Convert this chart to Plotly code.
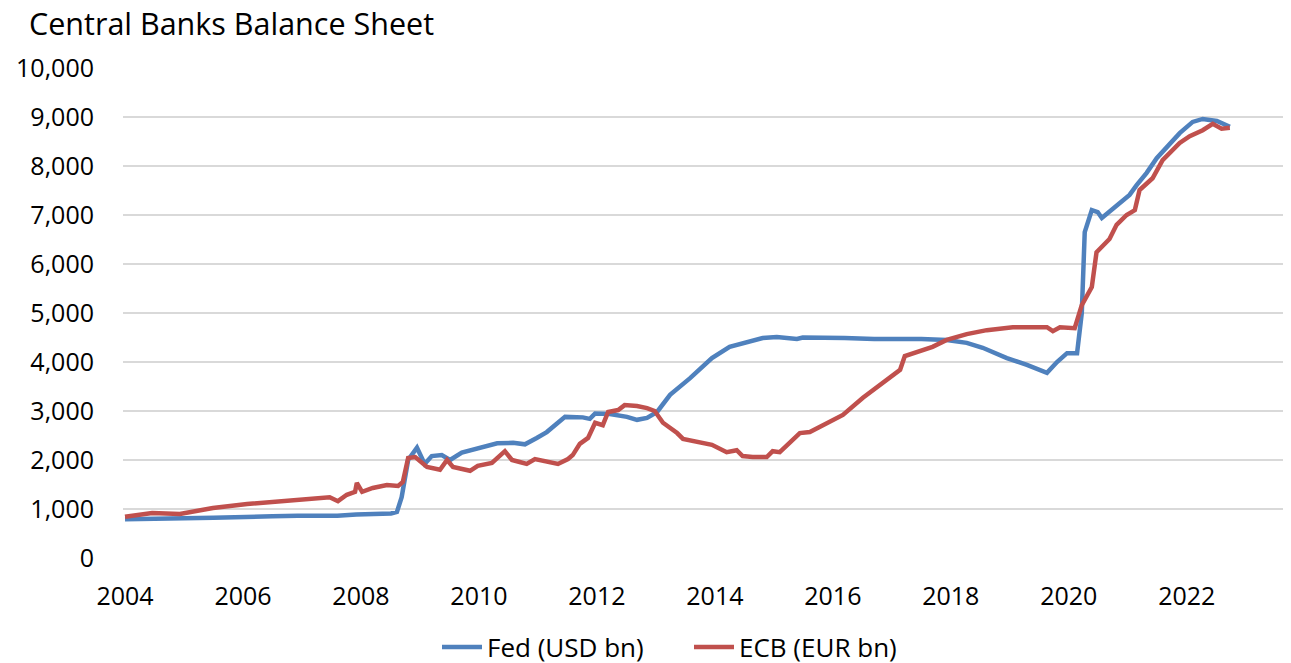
import plotly.graph_objects as go

fed_years = [2004.00, 2004.50, 2005.00, 2005.50, 2005.95, 2006.50, 2006.93, 2007.40, 2007.60, 2007.92,
             2008.20, 2008.51, 2008.61, 2008.69, 2008.80, 2008.95,
             2009.08, 2009.20, 2009.37, 2009.51, 2009.71, 2009.97, 2010.31, 2010.58, 2010.78, 2010.98,
             2011.15, 2011.46, 2011.76, 2011.88, 2011.97, 2012.22, 2012.51, 2012.68, 2012.85, 2013.02,
             2013.24, 2013.58, 2013.95, 2014.25, 2014.54, 2014.81, 2015.05, 2015.39, 2015.49, 2015.78,
             2016.20, 2016.70, 2017.14, 2017.50, 2017.93, 2018.27, 2018.54, 2018.95, 2019.29, 2019.63,
             2019.80, 2019.97, 2020.14,
             2020.22, 2020.27, 2020.39, 2020.49, 2020.56, 2020.86, 2021.03, 2021.15, 2021.32, 2021.49,
             2021.66, 2021.88, 2022.10, 2022.27, 2022.51, 2022.73]
fed_values = [790, 810, 810, 820, 840, 850, 860, 870, 860, 890,
              900, 910, 940, 1240, 2000, 2250,
              1920, 2080, 2100, 2000, 2150, 2240, 2340, 2350, 2320, 2450,
              2570, 2880, 2870, 2840, 2950, 2940, 2880, 2820, 2860, 2980,
              3330, 3670, 4080, 4310, 4410, 4490, 4510, 4470, 4500, 4500,
              4490, 4470, 4480, 4470, 4450, 4390, 4290, 4080, 3940, 3780,
              4000, 4180, 4180,
              5000, 6650, 7100, 7060, 6940, 7240, 7410, 7610, 7860, 8160,
              8370, 8670, 8900, 8960, 8920, 8800]

ecb_years = [2004.00, 2004.46, 2004.93, 2005.49, 2006.07, 2006.51, 2006.92, 2007.47, 2007.61, 2007.76,
             2007.90, 2007.93, 2008.02, 2008.20, 2008.44, 2008.63, 2008.71, 2008.80, 2008.92, 2009.12,
             2009.34, 2009.46, 2009.56, 2009.85, 2009.98, 2010.22, 2010.44, 2010.56, 2010.69, 2010.81,
             2010.95, 2011.15, 2011.34, 2011.51, 2011.59, 2011.71, 2011.85, 2011.97, 2012.10, 2012.19,
             2012.36, 2012.47, 2012.68, 2012.85, 2012.98, 2013.12, 2013.36, 2013.46, 2013.75, 2013.95,
             2014.20, 2014.37, 2014.47, 2014.64, 2014.88, 2014.98, 2015.10, 2015.27, 2015.44, 2015.61,
             2015.78, 2016.17, 2016.51, 2016.80, 2017.14, 2017.22, 2017.42, 2017.69, 2017.93, 2018.27,
             2018.61, 2019.05, 2019.63, 2019.73, 2019.85, 2020.10, 2020.22, 2020.39, 2020.47, 2020.69,
             2020.81, 2020.98, 2021.12, 2021.20, 2021.42, 2021.59, 2021.88, 2022.05, 2022.27, 2022.44,
             2022.59, 2022.73]
ecb_values = [840, 920, 900, 1020, 1100, 1140, 1180, 1240, 1160, 1290,
              1350, 1530, 1350, 1430, 1490, 1470, 1550, 2040, 2060, 1860,
              1800, 2000, 1860, 1780, 1880, 1940, 2180, 2000, 1960, 1920,
              2020, 1960, 1920, 2020, 2100, 2330, 2450, 2760, 2710, 2980,
              3020, 3120, 3100, 3060, 3000, 2760, 2550, 2430, 2350, 2310,
              2160, 2200, 2080, 2060, 2060, 2180, 2160, 2370, 2550, 2570,
              2680, 2920, 3270, 3530, 3840, 4120, 4200, 4310, 4450, 4570,
              4650, 4710, 4710, 4630, 4710, 4690, 5160, 5530, 6240, 6510,
              6800, 7000, 7100, 7510, 7750, 8120, 8470, 8610, 8730, 8860,
              8760, 8780]

x_ticks = [2004, 2006, 2008, 2010, 2012, 2014, 2016, 2018, 2020, 2022]
y_ticks = [0, 1000, 2000, 3000, 4000, 5000, 6000, 7000, 8000, 9000, 10000]

FONT = "Open Sans"
W, H = 1291, 663

fig = go.Figure()
fig.add_trace(go.Scatter(x=fed_years, y=fed_values, mode="lines", name="Fed (USD bn)",
                         line=dict(color="#4F81BD", width=4.5)))
fig.add_trace(go.Scatter(x=ecb_years, y=ecb_values, mode="lines", name="ECB (EUR bn)",
                         line=dict(color="#C0504D", width=4.5)))

fig.update_layout(
    width=W, height=H,
    paper_bgcolor="white", plot_bgcolor="white",
    margin=dict(l=115, r=9, t=60, b=113, autoexpand=False),
    font=dict(family=FONT, size=25, color="black"),
    title=dict(text="Central Banks Balance Sheet", x=21 / W, xanchor="left", xref="container",
               y=1 - 16 / H, yanchor="middle", yref="container",
               font=dict(family=FONT, size=30.5, color="black")),
    showlegend=True,
    legend=dict(orientation="h", x=429 / W, xanchor="left", xref="container",
                y=1 - 639 / H, yanchor="middle", yref="container",
                font=dict(size=26), itemwidth=40, tracegroupgap=0,
                entrywidth=197, entrywidthmode="pixels"),
    xaxis=dict(range=[2003.966, 2023.75], tickvals=x_ticks, ticktext=[str(v) for v in x_ticks],
               showgrid=False, zeroline=False, showline=False, ticks="", ticklabelstandoff=21,
               automargin=False),
    yaxis=dict(range=[0, 10000], tickvals=y_ticks, tickformat=",d", showgrid=True,
               gridcolor="#D9D9D9", gridwidth=1.5, zeroline=False, showline=False, ticks="",
               ticklabelstandoff=28, automargin=False),
)

fig.write_html("out.html")
